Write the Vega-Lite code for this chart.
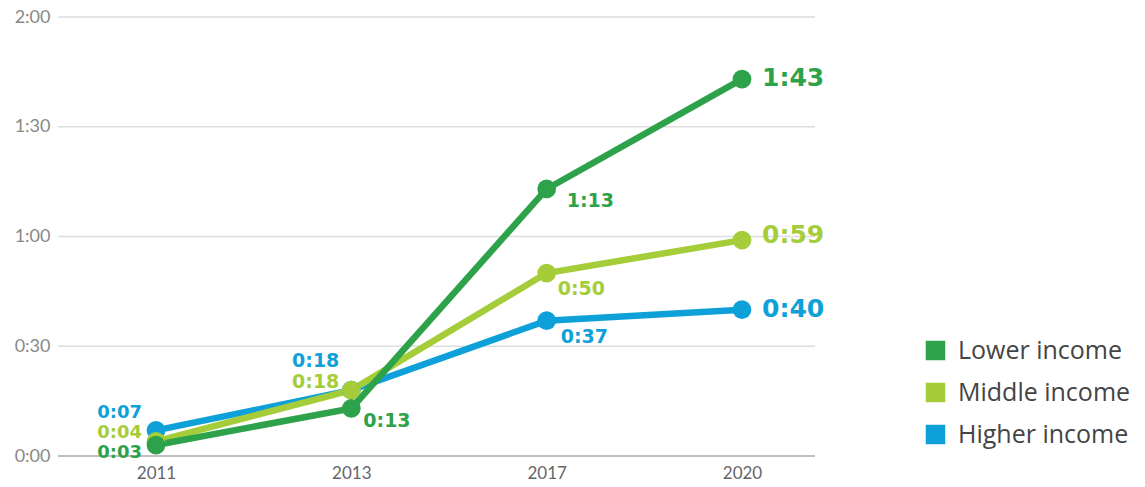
{
  "$schema": "https://vega.github.io/schema/vega-lite/v6.json",
  "width": 757,
  "height": 439,
  "autosize": "none",
  "padding": {"left": 58, "top": 17, "right": 330, "bottom": 31},
  "background": "white",
  "config": {
    "view": {"stroke": null},
    "font": "Lato",
    "legend": {"orient": "none", "legendX": 865, "legendY": 321, "symbolType": "square", "symbolSize": 324, "labelFontSize": 25, "labelLimit": 400, "labelColor": "#444", "labelFont": "Open Sans", "rowPadding": 16, "labelOffset": 10, "title": null, "padding": 0}
  },
  "layer": [
    {
      "data": {"values": [{"v": 0}, {"v": 30}, {"v": 60}, {"v": 90}, {"v": 120}]},
      "mark": {"type": "rule", "strokeWidth": 1.5},
      "encoding": {
        "y": {"field": "v", "type": "quantitative", "scale": {"domain": [0, 120], "nice": false},
          "axis": {"title": null, "values": [0, 30, 60, 90, 120], "domain": false, "ticks": false, "grid": false, "labelColor": "#888", "labelFontSize": 18, "labelPadding": 8,
            "labelExpr": "floor(datum.value/60) + ':' + (datum.value % 60 < 10 ? '0' : '') + (datum.value % 60)"}},
        "color": {"condition": {"test": "datum.v == 0", "value": "#aaaaaa"}, "value": "#dddddd"}
      }
    },
    {
      "data": {
        "values": [
          {"year": "2011", "group": "Higher income", "minutes": 7, "label": "0:07"},
          {"year": "2013", "group": "Higher income", "minutes": 18, "label": "0:18"},
          {"year": "2017", "group": "Higher income", "minutes": 37, "label": "0:37"},
          {"year": "2020", "group": "Higher income", "minutes": 40, "label": "0:40"},
          {"year": "2011", "group": "Middle income", "minutes": 4, "label": "0:04"},
          {"year": "2013", "group": "Middle income", "minutes": 18, "label": "0:18"},
          {"year": "2017", "group": "Middle income", "minutes": 50, "label": "0:50"},
          {"year": "2020", "group": "Middle income", "minutes": 59, "label": "0:59"},
          {"year": "2011", "group": "Lower income", "minutes": 3, "label": "0:03"},
          {"year": "2013", "group": "Lower income", "minutes": 13, "label": "0:13"},
          {"year": "2017", "group": "Lower income", "minutes": 73, "label": "1:13"},
          {"year": "2020", "group": "Lower income", "minutes": 103, "label": "1:43"}
        ]
      },
      "encoding": {
        "x": {"field": "year", "type": "ordinal", "scale": {"type": "point", "padding": 0, "range": [98, 684]},
          "axis": {"title": null, "labelAngle": 0, "domain": false, "ticks": false, "labelColor": "#666", "labelFontSize": 17, "labelPadding": 9, "grid": false}},
        "y": {"field": "minutes", "type": "quantitative", "scale": {"domain": [0, 120], "nice": false},
          "axis": {"title": null, "values": [0, 30, 60, 90, 120], "domain": false, "ticks": false, "grid": false, "labelColor": "#888", "labelFontSize": 18, "labelPadding": 8,
            "labelExpr": "floor(datum.value/60) + ':' + (datum.value % 60 < 10 ? '0' : '') + (datum.value % 60)"}},
        "color": {"field": "group", "type": "nominal",
          "scale": {"domain": ["Lower income", "Middle income", "Higher income"], "range": ["#2ea24a", "#a5cd39", "#0ea1d9"]}}
      },
      "layer": [
        {"mark": {"type": "line", "strokeWidth": 6.5}},
        {"mark": {"type": "point", "filled": true, "opacity": 1, "size": 350}},
        {"transform": [{"filter": "datum.year == '2011' && datum.group == 'Lower income'"}],
          "mark": {"type": "text", "align": "right", "baseline": "middle", "dx": -14, "dy": 8, "fontSize": 18, "fontWeight": "bold", "font": "DejaVu Sans"},
          "encoding": {"text": {"field": "label"}}},
        {"transform": [{"filter": "datum.year == '2011' && datum.group == 'Middle income'"}],
          "mark": {"type": "text", "align": "right", "baseline": "middle", "dx": -14, "dy": -8, "fontSize": 18, "fontWeight": "bold", "font": "DejaVu Sans"},
          "encoding": {"text": {"field": "label"}}},
        {"transform": [{"filter": "datum.year == '2011' && datum.group == 'Higher income'"}],
          "mark": {"type": "text", "align": "right", "baseline": "middle", "dx": -14, "dy": -17, "fontSize": 18, "fontWeight": "bold", "font": "DejaVu Sans"},
          "encoding": {"text": {"field": "label"}}},
        {"transform": [{"filter": "datum.year == '2013' && datum.group == 'Higher income'"}],
          "mark": {"type": "text", "align": "right", "baseline": "middle", "dx": -12, "dy": -29, "fontSize": 19, "fontWeight": "bold", "font": "DejaVu Sans"},
          "encoding": {"text": {"field": "label"}}},
        {"transform": [{"filter": "datum.year == '2013' && datum.group == 'Middle income'"}],
          "mark": {"type": "text", "align": "right", "baseline": "middle", "dx": -12, "dy": -8, "fontSize": 19, "fontWeight": "bold", "font": "DejaVu Sans"},
          "encoding": {"text": {"field": "label"}}},
        {"transform": [{"filter": "datum.year == '2013' && datum.group == 'Lower income'"}],
          "mark": {"type": "text", "align": "left", "baseline": "middle", "dx": 12, "dy": 13, "fontSize": 19, "fontWeight": "bold", "font": "DejaVu Sans"},
          "encoding": {"text": {"field": "label"}}},
        {"transform": [{"filter": "datum.year == '2017' && datum.group == 'Lower income'"}],
          "mark": {"type": "text", "align": "left", "baseline": "middle", "dx": 20, "dy": 12, "fontSize": 19, "fontWeight": "bold", "font": "DejaVu Sans"},
          "encoding": {"text": {"field": "label"}}},
        {"transform": [{"filter": "datum.year == '2017' && datum.group == 'Middle income'"}],
          "mark": {"type": "text", "align": "left", "baseline": "middle", "dx": 11, "dy": 16, "fontSize": 19, "fontWeight": "bold", "font": "DejaVu Sans"},
          "encoding": {"text": {"field": "label"}}},
        {"transform": [{"filter": "datum.year == '2017' && datum.group == 'Higher income'"}],
          "mark": {"type": "text", "align": "left", "baseline": "middle", "dx": 14, "dy": 16, "fontSize": 19, "fontWeight": "bold", "font": "DejaVu Sans"},
          "encoding": {"text": {"field": "label"}}},
        {"transform": [{"filter": "datum.year == '2020' && datum.group != 'Middle income'"}],
          "mark": {"type": "text", "align": "left", "baseline": "middle", "dx": 20, "dy": -1, "fontSize": 25, "fontWeight": "bold", "font": "DejaVu Sans"},
          "encoding": {"text": {"field": "label"}}},
        {"transform": [{"filter": "datum.year == '2020' && datum.group == 'Middle income'"}],
          "mark": {"type": "text", "align": "left", "baseline": "middle", "dx": 20, "dy": -5, "fontSize": 25, "fontWeight": "bold", "font": "DejaVu Sans"},
          "encoding": {"text": {"field": "label"}}}
      ]
    }
  ]
}
